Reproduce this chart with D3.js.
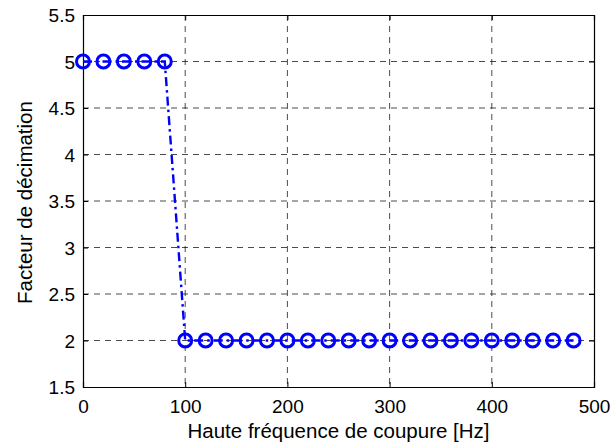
<!DOCTYPE html>
<html>
<head>
<meta charset="utf-8">
<script src="https://cdn.jsdelivr.net/npm/d3@7"></script>
<style>
html,body{margin:0;padding:0;background:#fff;}
svg{display:block;font-family:"Liberation Sans",Arial,sans-serif;}
</style>
</head>
<body>
<svg id="chart" width="613" height="447"></svg>
<script>
const frequencies = [0,20,40,60,80,100,120,140,160,180,200,220,240,260,280,300,320,340,360,380,400,420,440,460,480];
const decimation = [5,5,5,5,5,2,2,2,2,2,2,2,2,2,2,2,2,2,2,2,2,2,2,2,2];
const xTicks = [0,100,200,300,400,500];
const yTicks = [1.5,2,2.5,3,3.5,4,4.5,5,5.5];
const xLabel = "Haute fréquence de coupure [Hz]";
const yLabel = "Facteur de décimation";

const svg = d3.select("#chart");
const L = 83, R = 594, T = 15, B = 387;
const x = d3.scaleLinear().domain([0,500]).range([L,R]);
const y = d3.scaleLinear().domain([1.5,5.5]).range([B,T]);

// grid
const g = svg.append("g");
g.selectAll(".gx").data(xTicks.slice(1,-1)).enter().append("line")
  .attr("x1",d=>x(d)).attr("x2",d=>x(d)).attr("y1",T).attr("y2",B)
  .attr("stroke","#000").attr("stroke-width",1).attr("stroke-dasharray","6,5").attr("opacity",0.7);
g.selectAll(".gy").data(yTicks.slice(1,-1)).enter().append("line")
  .attr("y1",d=>y(d)).attr("y2",d=>y(d)).attr("x1",L).attr("x2",R)
  .attr("stroke","#000").attr("stroke-width",1).attr("stroke-dasharray","6,5").attr("opacity",0.7);

// axes
const fmt = d3.format("");
const xAxisB = d3.axisBottom(x).tickValues(xTicks).tickSize(-5).tickPadding(10).tickFormat(fmt);
const xAxisT = d3.axisTop(x).tickValues(xTicks).tickSize(-5).tickFormat("");
const yAxisL = d3.axisLeft(y).tickValues(yTicks).tickSize(-5).tickPadding(8).tickFormat(fmt);
const yAxisR = d3.axisRight(y).tickValues(yTicks).tickSize(-5).tickFormat("");

function style(sel){
  sel.select(".domain").attr("stroke","#000").attr("stroke-width",1.2);
  sel.selectAll(".tick line").attr("stroke","#000");
  sel.selectAll("text").attr("fill","#000").attr("font-size","19px").attr("font-family","Liberation Sans, Arial, sans-serif");
}
svg.append("g").attr("transform",`translate(0,${B})`).call(xAxisB).call(style)
  .selectAll(".tick text").attr("dy",null).attr("y",null).attr("transform","translate(0,26)");
svg.append("g").attr("transform",`translate(0,${T})`).call(xAxisT).call(style);
svg.append("g").attr("transform",`translate(${L},0)`).call(yAxisL).call(style)
  .selectAll(".tick text").attr("dy","0.36em");
svg.append("g").attr("transform",`translate(${R},0)`).call(yAxisR).call(style);

// line
const pts = frequencies.map((f,i)=>[f,decimation[i]]);
svg.append("path").datum(pts)
  .attr("d", d3.line().x(d=>x(d[0])).y(d=>y(d[1])))
  .attr("fill","none").attr("stroke","#0000ff").attr("stroke-width",2.4)
  .attr("stroke-dasharray","9,4,2.5,4");

svg.selectAll(".pt").data(pts).enter().append("circle")
  .attr("cx",d=>x(d[0])).attr("cy",d=>y(d[1])).attr("r",6.5)
  .attr("fill","none").attr("stroke","#0000ff").attr("stroke-width",3);

// labels
svg.append("text").attr("x",(L+R)/2).attr("y",438).attr("text-anchor","middle")
  .attr("font-size","20.5px").attr("fill","#000").text(xLabel);
svg.append("text").attr("transform",`translate(32,${(T+B)/2+1.5}) rotate(-90)`).attr("text-anchor","middle")
  .attr("font-size","20.5px").attr("fill","#000").text(yLabel);
</script>
</body>
</html>
